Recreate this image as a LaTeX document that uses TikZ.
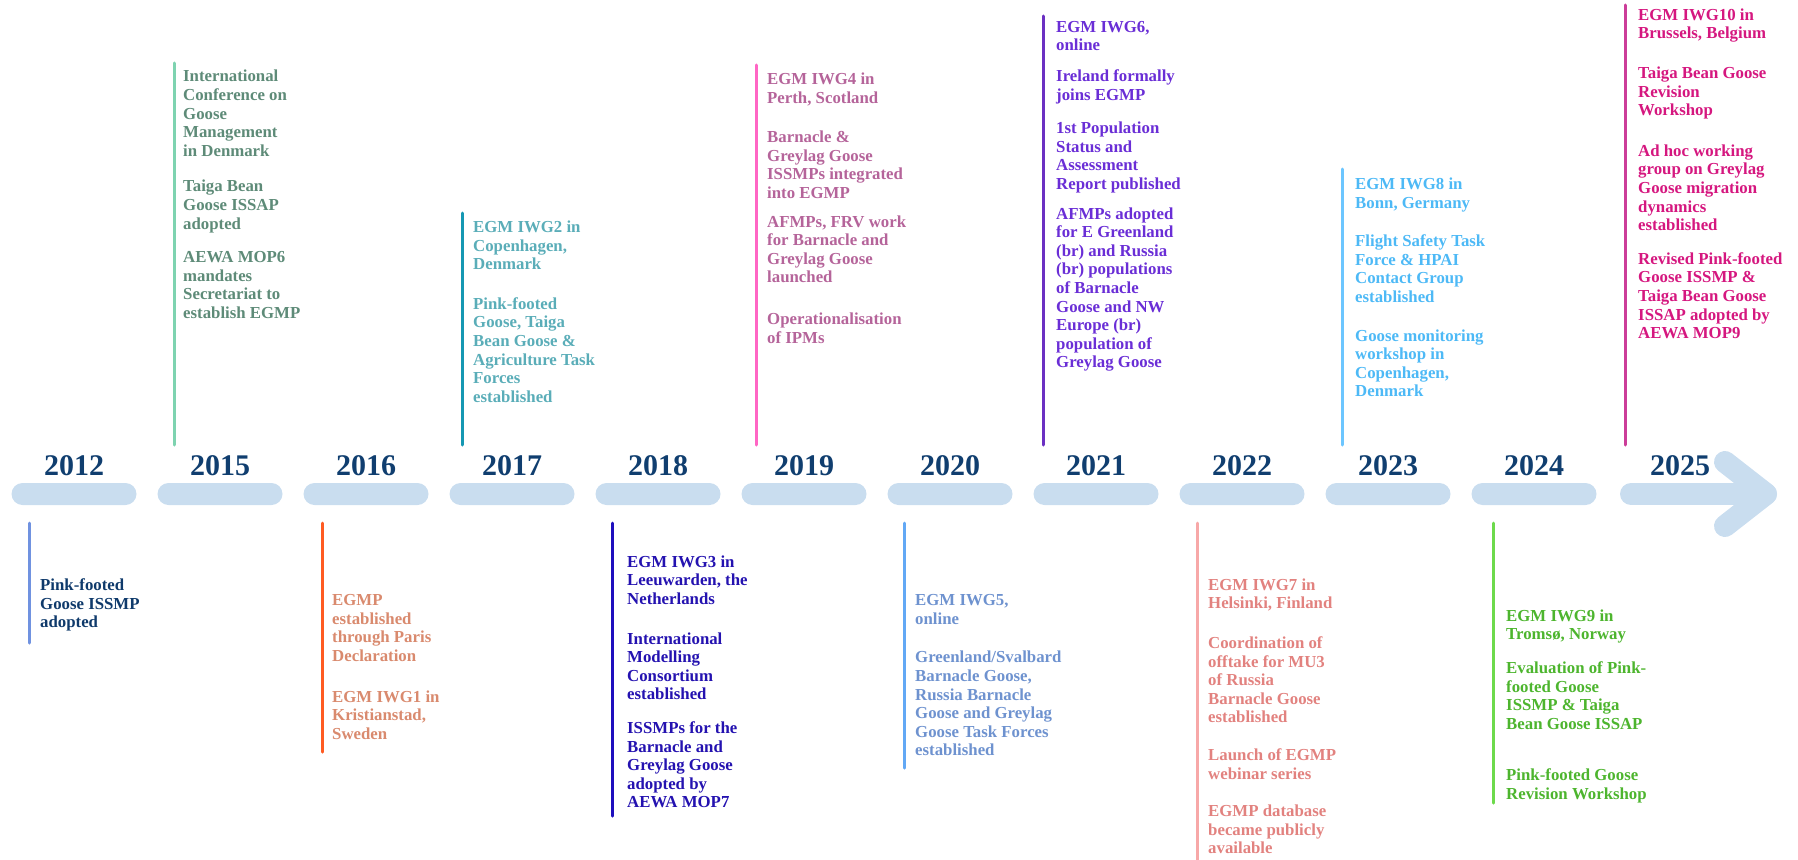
\documentclass[tikz,border=0pt]{standalone}
\usepackage{fontspec}
\setmainfont{Liberation Serif}
\usetikzlibrary{positioning}
\definecolor{yearblue}{HTML}{103E6F}
\definecolor{barblue}{HTML}{C9DDEF}
\definecolor{l12}{HTML}{7092E0}\definecolor{t12}{HTML}{0F3A6B}
\definecolor{l15}{HTML}{7ED3B0}\definecolor{t15}{HTML}{5E8B78}
\definecolor{l16}{HTML}{FF5B22}\definecolor{t16}{HTML}{D98A6E}
\definecolor{l17}{HTML}{1598B3}\definecolor{t17}{HTML}{5AADB8}
\definecolor{l18}{HTML}{1E0FBE}\definecolor{t18}{HTML}{2412B0}
\definecolor{l19}{HTML}{FF66C4}\definecolor{t19}{HTML}{B5649A}
\definecolor{l20}{HTML}{62A8F5}\definecolor{t20}{HTML}{6E92CF}
\definecolor{l21}{HTML}{6B30C2}\definecolor{t21}{HTML}{6A2ED6}
\definecolor{l22}{HTML}{F7A8A8}\definecolor{t22}{HTML}{E2827F}
\definecolor{l23}{HTML}{6CC6FF}\definecolor{t23}{HTML}{4DB9F6}
\definecolor{l24}{HTML}{6DDA4C}\definecolor{t24}{HTML}{4DB52E}
\definecolor{l25}{HTML}{CC3D99}\definecolor{t25}{HTML}{D5177F}
\tikzset{seg/.style={rectangle,fill=barblue,rounded corners=11pt,inner sep=0pt,
           minimum width=125pt,minimum height=22pt},
	 arrowbar/.style={draw=barblue,line width=22pt,line cap=round,line join=round},
	 yearlbl/.style={anchor=base,inner sep=0pt,text=yearblue,
	   font=\bfseries\fontsize{30}{34}\selectfont},
	 evt/.style={anchor=north west,inner sep=0pt,align=left,
	   font=\bfseries\fontsize{16.8}{18.6}\selectfont},
	 tick/.style={line width=3pt,line cap=round}
	 }

\begin{document}
\begin{tikzpicture}[x=1pt,y=-1pt] % EGMP timeline 2012--2025
	\useasboundingbox (0,0) rectangle (1798,859);
	\foreach \yr [count=\i from 0] in {2012,2015,2016,...,2024} {
	  \node[seg] (s\yr) at (74+146*\i,494) {};
	  \node[yearlbl] (y\yr) at (74+146*\i,475) {\yr};
	}
	\node[yearlbl] (y2025) at (1680,475) {2025};
	\draw[arrowbar] (1631,494) -- (1766,494);
	\draw[arrowbar] (1725,462) -- (1766,494) -- (1725,526);

	% above the bar
	\draw[tick,l15] (174,63) -- (174,445);
	\node[evt,text=t15] (e2015) at (183,70) {International\\Conference on\\Goose\\Management\\in Denmark\\[17pt]Taiga Bean\\Goose ISSAP\\adopted\\[15pt]AEWA MOP6\\mandates\\Secretariat to\\establish EGMP};
	\draw[tick,l17] (462,213) -- (462,445);
	\node[evt,text=t17] (e2017) at (473,220.7) {EGM IWG2 in\\Copenhagen,\\Denmark\\[21pt]Pink-footed\\Goose, Taiga\\Bean Goose \&\\Agriculture Task\\Forces\\established};
	\draw[tick,l19] (756,65) -- (756,445);
	\node[evt,text=t19] (e2019) at (767,72.7) {EGM IWG4 in\\Perth, Scotland\\[21pt]Barnacle \&\\Greylag Goose\\ISSMPs integrated\\into EGMP\\[10pt]AFMPs, FRV work\\for Barnacle and\\Greylag Goose\\launched\\[23pt]Operationalisation\\of IPMs};
	\draw[tick,l21] (1043,16) -- (1043,445);
	\node[evt,text=t21] (e2021) at (1056,21) {EGM IWG6,\\online\\[12pt]Ireland formally\\joins EGMP\\[15pt]1st Population\\Status and\\Assessment\\Report published\\[11pt]AFMPs adopted\\for E Greenland\\(br) and Russia\\(br) populations\\of Barnacle\\Goose and NW\\Europe (br)\\population of\\Greylag Goose};
	\draw[tick,l23] (1342,169) -- (1342,445);
	\node[evt,text=t23] (e2023) at (1355,177.7) {EGM IWG8 in\\Bonn, Germany\\[20pt]Flight Safety Task\\Force \& HPAI\\Contact Group\\established\\[20pt]Goose monitoring\\workshop in\\Copenhagen,\\Denmark};
	\draw[tick,l25] (1625,5) -- (1625,445);
	\node[evt,text=t25] (e2025) at (1638,8.4) {EGM IWG10 in\\Brussels, Belgium\\[21pt]Taiga Bean Goose\\Revision\\Workshop\\[22pt]Ad hoc working\\group on Greylag\\Goose migration\\dynamics\\established\\[15pt]Revised Pink-footed\\Goose ISSMP \&\\Taiga Bean Goose\\ISSAP adopted by\\AEWA MOP9};

	% below the bar
	\draw[tick,l12] (29,523) -- (29,643);
	\node[evt,text=t12] (e2012) at (40,578.4) {Pink-footed\\Goose ISSMP\\adopted};
	\draw[tick,l16] (322,523) -- (322,752);
	\node[evt,text=t16] (e2016) at (332,594.4) {EGMP\\established\\through Paris\\Declaration\\[22pt]EGM IWG1 in\\Kristianstad,\\Sweden};
	\draw[tick,l18] (612,523) -- (612,816);
	\node[evt,text=t18] (e2018) at (627,555.4) {EGM IWG3 in\\Leeuwarden, the\\Netherlands\\[21pt]International\\Modelling\\Consortium\\established\\[15pt]ISSMPs for the\\Barnacle and\\Greylag Goose\\adopted by\\AEWA MOP7};
	\draw[tick,l20] (904,523) -- (904,768);
	\node[evt,text=t20] (e2020) at (915,594.4) {EGM IWG5,\\online\\[20pt]Greenland/Svalbard\\Barnacle Goose,\\Russia Barnacle\\Goose and Greylag\\Goose Task Forces\\established};
	\draw[tick,l22] (1197,523) -- (1197,862);
	\node[evt,text=t22] (e2022) at (1208,578.4) {EGM IWG7 in\\Helsinki, Finland\\[21pt]Coordination of\\offtake for MU3\\of Russia\\Barnacle Goose\\established\\[19pt]Launch of EGMP\\webinar series\\[19pt]EGMP database\\became publicly\\available};
	\draw[tick,l24] (1493,523) -- (1493,803);
	\node[evt,text=t24] (e2024) at (1506,609.4) {EGM IWG9 in\\Tromsø, Norway\\[15pt]Evaluation of Pink-\\footed Goose\\ISSMP \& Taiga\\Bean Goose ISSAP\\[33pt]Pink-footed Goose\\Revision Workshop};
\end{tikzpicture}
\end{document}
